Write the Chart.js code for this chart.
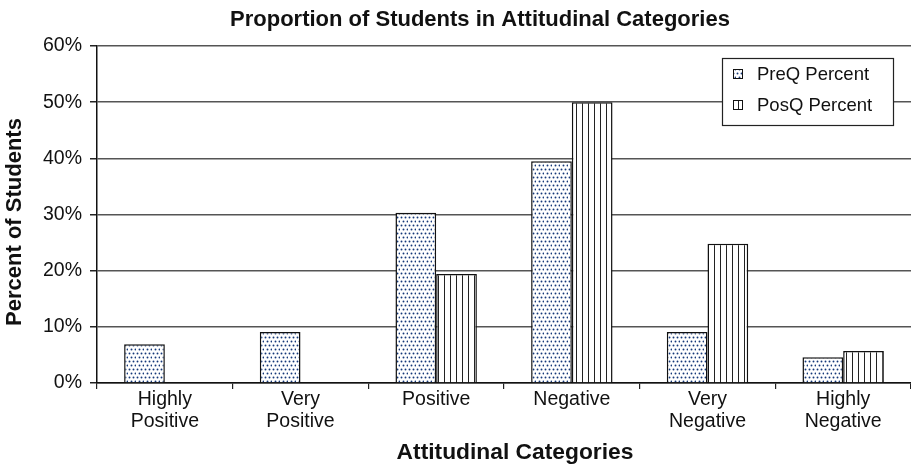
<!DOCTYPE html>
<html>
<head>
<meta charset="utf-8">
<script src="https://cdn.jsdelivr.net/npm/chart.js@4"></script>
<style>
  html, body { margin: 0; padding: 0; background: #fff; }
  #wrap { width: 911px; height: 466px; }
</style>
</head>
<body>
<div id="wrap"><canvas id="chart" width="911" height="466"></canvas></div>
<script>
const categories = [['Highly', 'Positive'], ['Very', 'Positive'], 'Positive', 'Negative', ['Very', 'Negative'], ['Highly', 'Negative']]
const preQ = [6.9, 9.1, 30.3, 39.5, 9.1, 4.6]
const posQ = [null, null, 19.4, 50, 24.8, 5.7]
const seriesNames = ['PreQ Percent', 'PosQ Percent']
const yTicks = [0, 10, 20, 30, 40, 50, 60]

const chartTitle = 'Proportion of Students in Attitudinal Categories'
const xTitle = 'Attitudinal Categories'
const yTitle = 'Percent of Students'

const FONT = "'Liberation Sans', Arial, sans-serif"

function dotPattern() {
    const c = document.createElement('canvas')
    c.width = 8; c.height = 8
    const g = c.getContext('2d')
    g.fillStyle = '#fff'
    g.fillRect(0, 0, 8, 8)
    g.fillStyle = '#16397a'
    ;[[1, 1], [5, 1], [3, 5], [7, 5]].forEach(p => {
        g.beginPath()
        g.arc(p[0] + 0.5, p[1] + 0.5, 0.95, 0, Math.PI * 2)
        g.fill()
    })
    return document.getElementById('chart').getContext('2d').createPattern(c, 'repeat')
}

function linePattern() {
    const c = document.createElement('canvas')
    c.width = 6; c.height = 6
    const g = c.getContext('2d')
    g.fillStyle = '#fff'
    g.fillRect(0, 0, 6, 6)
    g.fillStyle = '#222'
    g.fillRect(0, 0, 1, 6)
    return document.getElementById('chart').getContext('2d').createPattern(c, 'repeat')
}

const fills = [dotPattern(), linePattern()]

// titles are drawn by hand: the original is not centred on the canvas
const titles = {
    id: 'titles',
    afterDraw(chart) {
        const ctx = chart.ctx
        ctx.save()
        ctx.fillStyle = '#111'
        ctx.textAlign = 'center'
        ctx.textBaseline = 'middle'
        ctx.font = 'bold 22px ' + FONT
        ctx.fillText(chartTitle, 480, 20)
        ctx.font = 'bold 22.8px ' + FONT
        ctx.fillText(xTitle, 515, 453)
        ctx.translate(15, 222)
        ctx.rotate(-Math.PI / 2)
        ctx.font = 'bold 22px ' + FONT
        ctx.fillText(yTitle, 0, 0)
        ctx.restore()
    }
}

// legend box sits inside the plot, top right
const legendBox = {
    id: 'legendBox',
    afterDraw(chart) {
        const ctx = chart.ctx
        const x = 722, y = 58, w = 171, h = 67
        ctx.save()
        ctx.fillStyle = '#fff'
        ctx.fillRect(x, y, w, h)
        ctx.strokeStyle = '#222'
        ctx.lineWidth = 1.2
        ctx.strokeRect(x + 0.5, y + 0.5, w, h)
        const rows = [74, 105]
        chart.data.datasets.forEach((ds, i) => {
            ctx.fillStyle = ds.backgroundColor
            ctx.fillRect(733, rows[i] - 5, 10, 10)
            ctx.strokeStyle = '#111'
            ctx.lineWidth = 1
            ctx.strokeRect(733.5, rows[i] - 4.5, 9, 9)
            ctx.fillStyle = '#111'
            ctx.font = '18.5px ' + FONT
            ctx.textBaseline = 'middle'
            ctx.fillText(ds.label, 757, rows[i] + 1)
        })
        ctx.restore()
    }
}

new Chart(document.getElementById('chart').getContext('2d'), {
    type: 'bar',
    data: {
        labels: categories,
        datasets: [{
            label: seriesNames[0],
            data: preQ,
            backgroundColor: fills[0],
            borderColor: '#111',
            borderWidth: 1.5
        }, {
            label: seriesNames[1],
            data: posQ,
            backgroundColor: fills[1],
            borderColor: '#111',
            borderWidth: 1.5
        }]
    },
    options: {
        responsive: false,
        animation: false,
        events: [],
        layout: { padding: { top: 46, left: 0, right: 0, bottom: 0 } },
        datasets: { bar: { categoryPercentage: 0.6, barPercentage: 1.0 } },
        plugins: {
            legend: { display: false },
            tooltip: { enabled: false },
            title: { display: false }
        },
        scales: {
            x: {
                grid: { display: true, drawOnChartArea: false, offset: true, color: '#222', lineWidth: 1.2, tickLength: 6 },
                border: { color: '#111', width: 1.5 },
                ticks: { color: '#111', font: { family: FONT, size: 19.5, lineHeight: 1.13 }, padding: 0, maxRotation: 0, autoSkip: false },
                afterFit(scale) { scale.height = 83 }
            },
            y: {
                min: 0,
                max: 60,
                afterBuildTicks(scale) { scale.ticks = yTicks.map(v => ({ value: v })) },
                grid: { color: '#555', lineWidth: 1.5, tickLength: 7, tickColor: '#222' },
                border: { color: '#111', width: 1.5 },
                ticks: { color: '#111', font: { family: FONT, size: 19.5 }, padding: 8, callback: v => v + '%' },
                afterFit(scale) { scale.width = 97 }
            }
        }
    },
    plugins: [titles, legendBox]
})
</script>
</body>
</html>
